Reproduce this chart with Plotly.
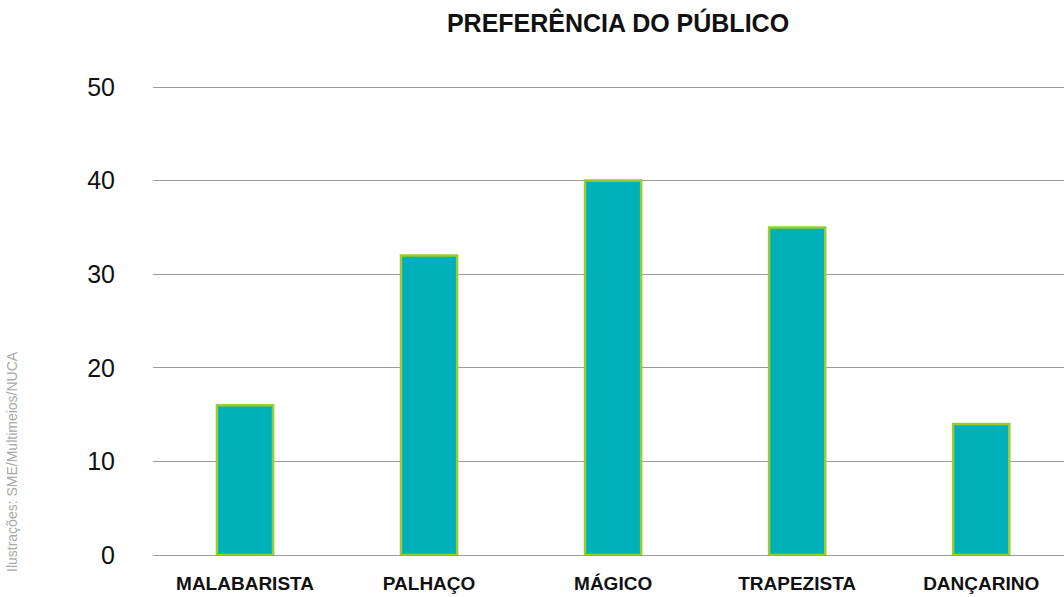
import plotly.graph_objects as go

categories = ["MALABARISTA", "PALHAÇO", "MÁGICO", "TRAPEZISTA", "DANÇARINO"]
votes = [16, 32, 40, 35, 14]
y_ticks = [0, 10, 20, 30, 40, 50]

fig = go.Figure()
fig.add_trace(go.Bar(
    x=list(range(len(categories))),
    y=votes,
    width=0.305,
    marker=dict(color="#00B0B9", line=dict(color="#99CC33", width=2.5)),
    hoverinfo="y",
))

# plot area: y=0 at 555 px, y=50 at 87 px
top_px, bottom_px = 80, 597 - 555
px_per_unit = (555 - 87) / 50
y_max = 50 + (87 - top_px) / px_per_unit

fig.update_layout(
    width=1064, height=597,
    margin=dict(l=153, r=0, t=top_px, b=bottom_px),
    paper_bgcolor="white", plot_bgcolor="white",
    showlegend=False,
    font=dict(family="Liberation Sans, Arial, sans-serif", color="#000"),
    title=dict(
        text="<b>PREFERÊNCIA DO PÚBLICO</b>",
        x=618 / 1064, xanchor="center", xref="container",
        y=1 - 23 / 597, yanchor="middle", yref="container",
        font=dict(size=25, color="#111"),
    ),
    xaxis=dict(
        range=[-0.5, 4.45],
        tickmode="array",
        tickvals=list(range(len(categories))),
        ticktext=[f"<b>{c}</b>" for c in categories],
        tickfont=dict(size=19, color="#111"),
        showgrid=False, zeroline=False, showline=False,
        ticks="", ticklabelstandoff=15,
    ),
    yaxis=dict(
        range=[0, y_max],
        tickmode="array", tickvals=y_ticks,
        tickfont=dict(size=25, family="Liberation Sans Narrow, Liberation Sans, Arial", color="#111"),
        showgrid=True, gridcolor="#9a9a9a", gridwidth=1,
        zeroline=True, zerolinecolor="#9a9a9a", zerolinewidth=1,
        showline=False, ticks="", ticklabelstandoff=37,
    ),
)

fig.add_annotation(
    text="Ilustrações: SME/Multimeios/NUCA",
    xref="paper", yref="paper",
    x=-141 / 911, y=(555 - 462) / (555 - top_px),
    textangle=-90, showarrow=False,
    font=dict(size=14, color="#a8a8a8"),
    xanchor="center", yanchor="middle",
)

fig.write_html("out.html")
